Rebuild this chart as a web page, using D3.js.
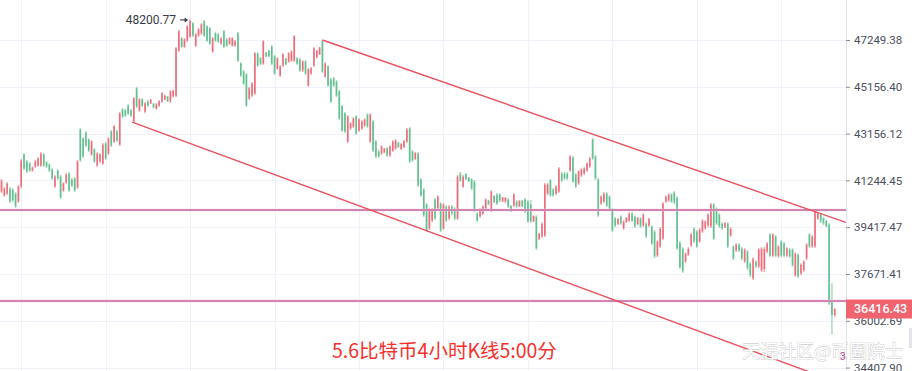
<!DOCTYPE html>
<html>
<head>
<meta charset="utf-8">
<script src="https://cdn.jsdelivr.net/npm/d3@7"></script>
<style>
html, body { margin: 0; padding: 0; background: #fff; }
svg { display: block; font-family: Roboto, "Noto Sans", sans-serif; }
</style>
</head>
<body>
<div id="chart"></div>
<script>
// 4h candles, [open, high, low, close]
var candles = [
[40800,41300,40740,41240],[40650,40980,40590,40920],[40720,41180,40660,41120],[40920,40980,40350,40410],
[40880,40940,40390,40450],[40720,40780,40160,40220],[40410,41060,40350,41000],[41000,42110,40940,42050],
[42290,42350,41660,41720],[42010,42070,41540,41600],[41930,41990,41580,41640],[41640,41820,41580,41760],
[41800,42070,41740,42010],[41840,42190,41780,42130],[41840,42390,41780,42330],[42290,42350,41780,41840],
[41970,42030,41740,41800],[41880,41940,41580,41640],[41680,41740,41260,41320],[41000,41460,40940,41400],
[41640,41700,41260,41320],[41400,41460,40510,40570],[40840,41180,40780,41120],[41160,41540,41100,41480],
[41520,41580,40780,40840],[41280,41340,40980,41040],[41320,41380,40780,40840],[40960,42070,40900,42010],
[43330,43390,41990,42050],[42950,43010,42150,42210],[43200,43260,42600,42660],[42910,42970,42390,42450],
[42290,42890,42230,42830],[42500,42560,41940,42000],[41840,42390,41780,42330],[42000,42350,41940,42290],
[41920,42760,41860,42700],[42750,42810,42070,42130],[42330,43010,42270,42950],[43250,43310,42600,42660],
[42820,43520,42760,43460],[43250,43310,42810,42870],[42700,44070,42640,44010],[44180,44240,43810,43870],
[44140,44200,43850,43910],[44350,44410,43940,44000],[44140,44200,43850,43910],[43660,44710,43600,44650],
[45090,45150,44240,44300],[44130,44670,44070,44610],[44610,44670,44280,44340],[44080,44500,44020,44440],
[44520,44580,44280,44340],[44430,44630,44410,44610],[44430,44450,44240,44260],[44210,44450,44150,44390],
[44340,44580,44280,44520],[44510,44930,44450,44870],[44600,44800,44580,44780],[44740,44760,44500,44520],
[44510,45020,44450,44960],[44730,45020,44710,44990],[44770,46930,44710,46870],[46760,47710,46700,47650],
[47330,47390,46880,46940],[46940,47340,46880,47280],[47220,47940,47160,47880],[47400,48200.77,47340,48140],
[48020,48080,47390,47450],[46990,47570,46930,47510],[47450,47800,47390,47740],[47540,48030,47480,47970],
[48110,48170,47390,47450],[47880,47940,47160,47220],[47790,47850,47020,47080],[46720,47390,46660,47330],
[47560,47620,47160,47220],[47510,47570,47110,47170],[47080,47390,47020,47330],[47650,47710,46880,46940],
[47280,47340,46930,46990],[47080,47390,47020,47330],[46990,47390,46930,47330],[46990,47250,46930,47190],
[47560,47620,46250,46310],[46190,46250,45590,45650],[45840,45900,45230,45290],[45700,45760,44280,44340],
[44640,45150,44580,45090],[44770,45370,44710,45310],[44860,46700,44800,46640],[46640,46700,46030,46090],
[46420,46480,46120,46180],[46180,47250,46120,47190],[46680,46700,46480,46500],[46770,46790,46480,46500],
[46960,47020,46120,46180],[46510,46570,45680,45740],[45960,46480,45900,46420],[45650,46120,45590,46060],
[46090,46660,46030,46600],[46410,46430,46120,46140],[46270,46700,46210,46640],[46310,46790,46250,46730],
[46310,47480,46250,47420],[46420,46480,46120,46180],[46370,46430,45810,45870],[45870,46340,45810,46280],
[46280,46340,45680,45740],[45210,45990,45150,45930],[45740,46030,45680,45970],[46090,46930,46030,46870],
[46450,46790,46430,46770],[46590,46930,46570,46910],[47190,47250,45760,45820],[45600,46250,45540,46190],
[46060,46120,45150,45210],[45480,45540,44450,44510],[45530,45590,45150,45210],[45390,45450,44710,44770],
[44960,45020,43730,43790],[44310,44370,43220,43280],[44010,44070,43180,43240],[42820,43940,42760,43880],
[43370,43640,43310,43580],[43450,43850,43390,43790],[43880,43940,43100,43160],[43280,43810,43220,43750],
[43370,43730,43310,43670],[43490,43810,43430,43750],[43960,44020,43390,43450],[42820,44020,42760,43960],
[43670,43730,42390,42450],[42830,42890,42150,42210],[42420,42480,42150,42210],[42330,42680,42270,42620],
[42370,42560,42350,42540],[42540,42600,42190,42250],[42250,42680,42190,42620],[42450,42890,42390,42830],
[42540,42930,42480,42870],[42780,42810,42560,42590],[42510,42760,42480,42730],[42590,42890,42560,42860],
[42820,43390,42760,43330],[43370,43430,41940,42000],[42420,42480,41990,42050],[42100,42390,42070,42360],
[42330,42390,40980,41040],[41280,41340,40590,40650],[40880,40940,39810,39870],[40290,40350,39230,39290],
[39370,40160,39310,40100],[39670,40160,39610,40100],[40490,40550,39690,39750],[40140,40660,40080,40600],
[40330,40390,39230,39290],[39370,40350,39310,40290],[40210,40270,39610,39670],[39750,40270,39690,40210],
[40210,40270,39880,39940],[40130,40190,39690,39750],[39750,41460,39690,41400],[41520,41580,41180,41240],
[41000,41460,40940,41400],[41500,41540,41260,41300],[41350,41380,41180,41210],[41280,41340,40860,40920],
[41200,41260,40000,40060],[39940,40000,39610,39670],[39830,40160,39770,40100],[39940,40270,39880,40210],
[40140,40550,40080,40490],[40450,40470,40270,40290],[40060,40860,40000,40800],[40630,40660,40350,40380],
[40680,40740,40270,40330],[40680,40740,40390,40450],[40410,40590,40390,40570],[40410,40590,40350,40560],
[40490,40550,40160,40220],[40240,40270,40000,40030],[40250,40740,40190,40680],[40410,40470,40160,40220],
[40220,40470,40190,40440],[40440,40470,40190,40220],[40490,40550,39960,40020],[40410,40470,39580,39640],
[40300,40470,39580,39640],[39640,39880,39610,39850],[39820,39880,38560,38620],[38960,39200,38930,39170],
[39070,39610,39010,39550],[39100,41140,39040,41080],[40720,41140,40660,41080],[41240,41300,40590,40650],
[40880,40940,40590,40650],[40720,41060,40660,41000],[40800,41780,40740,41720],[41520,41580,41180,41240],
[41520,41580,41260,41320],[41520,41580,41260,41320],[41640,42270,41580,42210],[42170,42230,41140,41200],
[41480,41540,40940,41000],[41120,41660,41060,41600],[41440,41740,41380,41680],[41520,41780,41460,41720],
[41640,41990,41580,41930],[41800,42190,41740,42130],[42910,42970,42070,42130],[42210,42270,41260,41320],
[41280,41340,39810,39870],[40330,40660,40270,40600],[40410,40780,40350,40720],[40720,40780,40190,40250],
[40600,40660,40080,40140],[40100,40160,39230,39290],[39750,39810,39420,39480],[39530,39770,39500,39740],
[39820,39880,39500,39560],[39370,39690,39310,39630],[39610,39810,39580,39780],[39670,40000,39610,39940],
[39940,40000,39610,39670],[39820,39880,39390,39450],[39530,39810,39500,39780],[39750,39810,39390,39450],
[39480,39960,39420,39900],[39550,39610,39010,39070],[39480,39770,39420,39740],[39440,39500,38740,38800],
[39250,39310,38260,38320],[38350,38930,38290,38870],[38690,39420,38630,39360],[38990,40390,38930,40330],
[40410,40660,40350,40600],[40450,40740,40390,40680],[40680,40740,40350,40410],[40760,40820,40310,40370],
[40560,40620,38560,38620],[38830,38890,37850,37910],[38610,38670,37710,37770],[38130,38480,38070,38420],
[38390,38670,38330,38610],[38730,39200,38670,39140],[39360,39420,38820,38880],[39250,39310,38630,38690],
[38880,39390,38820,39330],[39260,39730,39200,39670],[39370,39690,39310,39630],[39480,39960,39420,39900],
[39450,40350,39390,40290],[40290,40350,38930,38990],[40130,40190,39500,39560],[39900,39960,39390,39450],
[39550,39610,39310,39370],[39410,39610,39390,39580],[39550,39610,38630,38690],[39100,39420,39040,39360],
[38680,38740,38180,38240],[38540,38820,38480,38760],[38760,38820,38480,38540],[38610,38670,38180,38240],
[38130,38630,38070,38570],[38500,38560,37820,37880],[38050,38110,37560,37620],[37510,38290,37450,38230],
[38120,38180,37890,37950],[37950,38630,37890,38570],[37800,38670,37740,38610],[37850,38670,37740,38600],
[38500,38860,38440,38800],[39140,39200,38290,38350],[38350,39200,38290,39140],[39060,39120,38290,38350],
[38320,38740,38260,38680],[38870,38930,38290,38350],[38800,38860,38290,38350],[38350,38670,38290,38610],
[38570,38630,38260,38320],[38570,38630,37930,37990],[37620,38480,37560,38420],[38380,38440,37520,37580],
[37690,38070,37630,38010],[37800,38180,37740,38120],[38240,38820,38180,38760],[39140,39200,38630,38690],
[38690,39120,38630,39060],[38690,40080,38630,40020],[39750,40000,39690,39940],[39900,39960,39580,39640],
[39750,39810,39500,39560],[39660,39690,39420,39450],[39520,39580,36560,36620],[36700,37340,35540,36200],
[36200,36450,36130,36416.43]
];

var priceTicks = [47249.38, 45156.40, 43156.12, 41244.45, 39417.47, 37671.41, 36002.69, 34407.90];
var timeGrid = [7, 37, 67, 97, 127, 157, 187, 217, 247, 277];
var levels = [40080, 36700];
// trend lines: [candle index, price] pairs
var trendLines = [
  [[114, 47250], [300, 39600]],
  [[46.4, 43636], [300, 33820]]
];
var titleText = "5.6比特币4小时K线5:00分";
var markText = "天涯社区@币圈院士";

var W = 912, H = 371, plotW = 846;
var upCol = "#ec6673", downCol = "#5abd8a";

var svg = d3.select("#chart").append("svg").attr("width", W).attr("height", H);

var x = d3.scaleLinear().domain([0, 300]).range([1.5, 1.5 + 300 * 2.815]);
var y = d3.scaleLog().domain([34407.90, 47249.38]).range([367.6, 40]);

svg.append("clipPath").attr("id", "clip")
  .append("rect").attr("x", 0).attr("y", 0).attr("width", plotW).attr("height", H);

// grid
var grid = svg.append("g");
grid.selectAll(".hg").data(priceTicks).join("line")
  .attr("x1", 0).attr("x2", plotW)
  .attr("y1", function(d) { return Math.round(y(d)) + 0.5; })
  .attr("y2", function(d) { return Math.round(y(d)) + 0.5; })
  .attr("stroke", "#eff2f8");
grid.selectAll(".vg").data(timeGrid).join("line")
  .attr("x1", function(d) { return Math.round(x(d)) + 0.5; })
  .attr("x2", function(d) { return Math.round(x(d)) + 0.5; })
  .attr("y1", 0).attr("y2", H)
  .attr("stroke", "#eff2f8");

var plot = svg.append("g").attr("clip-path", "url(#clip)");

// candles
var cg = plot.append("g").selectAll("g").data(candles).join("g");
function col(d) { return d[3] >= d[0] ? upCol : downCol; }
cg.append("line")
  .attr("x1", function(d, i) { return x(i); })
  .attr("x2", function(d, i) { return x(i); })
  .attr("y1", function(d) { return y(d[1]); })
  .attr("y2", function(d) { return y(d[2]); })
  .attr("stroke", col).attr("stroke-opacity", 0.5).attr("stroke-width", 1.6);
cg.append("rect")
  .attr("x", function(d, i) { return x(i) - 0.8; })
  .attr("width", 1.6)
  .attr("y", function(d) { return y(Math.max(d[0], d[3])); })
  .attr("height", function(d) { return Math.max(1, y(Math.min(d[0], d[3])) - y(Math.max(d[0], d[3]))); })
  .attr("fill", col).attr("fill-opacity", 0.9);

// horizontal levels
var lv = plot.append("g");
lv.selectAll(".halo").data(levels).join("line")
  .attr("x1", 0).attr("x2", plotW)
  .attr("y1", function(d) { return y(d); }).attr("y2", function(d) { return y(d); })
  .attr("stroke", "#f0cfe0").attr("stroke-width", 2.6);
lv.selectAll(".core").data(levels).join("line")
  .attr("x1", 0).attr("x2", plotW)
  .attr("y1", function(d) { return y(d); }).attr("y2", function(d) { return y(d); })
  .attr("stroke", "#b23a80").attr("stroke-width", 1.1);

// trend lines
plot.append("g").selectAll("line").data(trendLines).join("line")
  .attr("x1", function(d) { return x(d[0][0]); })
  .attr("y1", function(d) { return y(d[0][1]); })
  .attr("x2", function(d) { return x(d[1][0]); })
  .attr("y2", function(d) { return y(d[1][1]); })
  .attr("stroke", "#e8525e").attr("stroke-width", 1.4);

// high marker
var hi = d3.maxIndex(candles, function(d) { return d[1]; });
var hx = x(hi), hy = y(candles[hi][1]);
svg.append("text").attr("x", hx - 14).attr("y", hy + 4.5)
  .attr("text-anchor", "end").attr("font-size", 12).attr("fill", "#363a45")
  .text(d3.format(".2f")(candles[hi][1]));
svg.append("line").attr("x1", hx - 10).attr("x2", hx - 3.5)
  .attr("y1", hy + 0.5).attr("y2", hy + 0.5).attr("stroke", "#363a45").attr("stroke-width", 1.1);
svg.append("path")
  .attr("d", "M" + (hx - 2) + "," + (hy + 0.5) + "l-3.5,-2.5v5z")
  .attr("fill", "#363a45");

// price axis
svg.append("line").attr("x1", plotW + 0.5).attr("x2", plotW + 0.5)
  .attr("y1", 0).attr("y2", H).attr("stroke", "#e0e3eb");
var ax = svg.append("g").attr("transform", "translate(" + plotW + ",0)")
  .call(d3.axisRight(y).tickValues(priceTicks).tickFormat(d3.format(".2f")).tickSize(4).tickPadding(4));
ax.select(".domain").remove();
ax.selectAll(".tick line").attr("stroke", "#8a8e99");
ax.selectAll(".tick text").attr("fill", "#4a4f5c").attr("font-size", 11.5)
  .attr("font-family", "Roboto, sans-serif");

// last price label
var last = candles[candles.length - 1][3];
svg.append("rect").attr("x", plotW).attr("width", W - plotW)
  .attr("y", y(last) - 9.5).attr("height", 19).attr("fill", "#ef646f");
svg.append("text").attr("x", plotW + 8).attr("y", y(last)).attr("dy", "0.35em")
  .attr("fill", "#fff").attr("font-size", 12.5).attr("font-weight", 500)
  .text(d3.format(".2f")(last));

// small scroll handle
svg.append("rect").attr("x", 909).attr("y", 328).attr("width", 3).attr("height", 20).attr("fill", "#e3e5ea");

// title and watermark
svg.append("text").attr("x", 332).attr("y", 358)
  .attr("font-family", "'Noto Sans CJK SC', sans-serif").attr("font-size", 19.5)
  .attr("fill", "#f7302e").text(titleText);
svg.append("text").attr("x", 742).attr("y", 358)
  .attr("font-family", "'Noto Sans CJK SC', sans-serif").attr("font-size", 18)
  .attr("fill", "#fff").attr("stroke", "#bdbdbd").attr("stroke-width", 0.7)
  .attr("paint-order", "stroke").text(markText);
svg.append("text").attr("x", 840).attr("y", 360)
  .attr("font-size", 10).attr("fill", "#b0459a").text("3");
</script>
</body>
</html>
